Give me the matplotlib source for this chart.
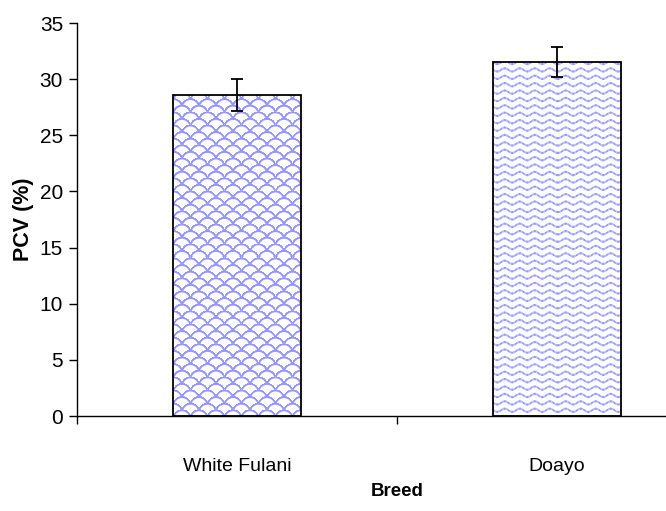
import numpy as np
import matplotlib
matplotlib.use('Agg')
import matplotlib.pyplot as plt

# data
breeds = ['White Fulani', 'Doayo']
pcv = [28.6, 31.5]
pcv_err = [1.45, 1.35]
fills = ['scales', 'waves']

BLUE = np.array([0.52, 0.52, 1.0])


def texture(kind, w, h):
    # pixel texture for the bar fill (fish scales or wavy lines)
    yy, xx = np.mgrid[0:h, 0:w].astype(float)
    if kind == 'waves':
        sp, per, amp = 7.4, 15.0, 1.6
        yc = yy - amp*np.sin(2*np.pi*xx/per)
        d = np.abs(((yc + sp/2) % sp) - sp/2)
        ink = np.clip(1.6 - d, 0, 1) * (0.8 + 0.2*np.cos(2*np.pi*xx/3.75))
    else:
        W, R, V = 17.0, 9.6, 6.6
        own = np.full((h, w), np.inf)
        for j in range(-2, int(h/V) + 3):
            off = (j % 2)*W/2
            cx = np.round((xx - off)/W)*W + off
            d = np.hypot(xx - cx, yy - j*V)
            own = np.where(d < R, d, own)
        ink = np.clip(1.6 - np.abs(R - 0.9 - own), 0, 1)
    return 1 - 0.85*ink[..., None]*(1 - BLUE)


fig = plt.figure(figsize=(6.66, 5.11), dpi=100)
# axes runs past the right edge of the picture like in the original
ax = fig.add_axes([77/666, 1-416/511, 640/666, 393/511])
ax.set_xlim(-0.5, 1.5)
ax.set_ylim(0, 35)

x = np.arange(len(breeds))
bars = ax.bar(x, pcv, width=0.4, facecolor='none', edgecolor='black',
              linewidth=1.3, zorder=3)
for b, kind in zip(bars, fills):
    x0, y0, bw, bh = b.get_x(), b.get_y(), b.get_width(), b.get_height()
    (px0, py0), (px1, py1) = ax.transData.transform([(x0, y0), (x0+bw, y0+bh)])
    img = texture(kind, int(round(px1-px0)), int(round(py1-py0)))
    im = ax.imshow(img, extent=[x0, x0+bw, y0, y0+bh], origin='upper',
                   aspect='auto', interpolation='nearest', zorder=2)
    im.set_clip_path(b)
ax.errorbar(x, pcv, yerr=pcv_err, fmt='none', ecolor='black',
            elinewidth=1.3, capsize=4.5, capthick=1.3, zorder=4)

ax.set_xlim(-0.5, 1.5)
ax.set_ylim(0, 35)
ax.set_yticks(np.arange(0, 36, 5))
ax.set_xticks([-0.5, 0.5, 1.5])
ax.set_xticklabels([])
ax.set_xticks(x, minor=True)
ax.set_xticklabels(breeds, minor=True, fontfamily='Liberation Sans', fontsize=14)
ax.tick_params(axis='x', which='minor', length=0, pad=30)
ax.tick_params(axis='x', which='major', length=6, direction='out', width=1)
ax.tick_params(axis='y', length=6, direction='out', width=1, pad=4)
for lab in ax.get_yticklabels():
    lab.set_fontfamily('Liberation Sans')
    lab.set_fontsize(15)

for s in ['top', 'right']:
    ax.spines[s].set_visible(False)
ax.spines['left'].set_linewidth(1)
ax.spines['bottom'].set_linewidth(1)

ax.set_xlabel('Breed', fontfamily='Liberation Sans', fontweight='bold',
              fontsize=13.5, labelpad=6)
ax.set_ylabel('PCV (%)', fontfamily='Liberation Sans', fontweight='bold',
              fontsize=15.5, labelpad=4)

fig.savefig('out.png', dpi=100)
